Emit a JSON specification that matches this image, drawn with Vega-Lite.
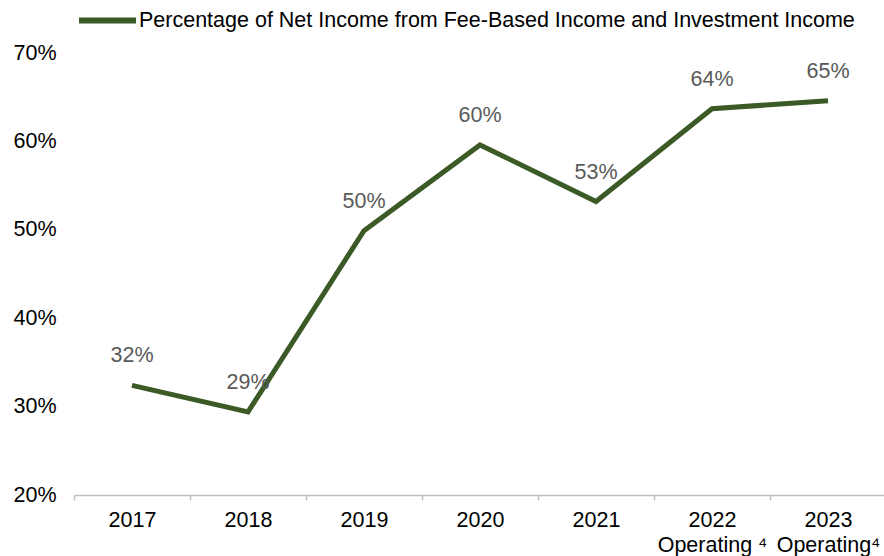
{
  "$schema": "https://vega.github.io/schema/vega-lite/v6.json",
  "autosize": "none",
  "width": 812,
  "height": 442,
  "padding": {"left": 74, "top": 53, "right": 0, "bottom": 61},
  "background": "white",
  "config": {
    "view": {"stroke": null},
    "font": "Liberation Sans"
  },
  "data": {
    "values": [
      {"year": "2017", "series": "Percentage of Net Income from Fee-Based Income and Investment Income", "value": 0.324},
      {"year": "2018", "series": "Percentage of Net Income from Fee-Based Income and Investment Income", "value": 0.294},
      {"year": "2019", "series": "Percentage of Net Income from Fee-Based Income and Investment Income", "value": 0.499},
      {"year": "2020", "series": "Percentage of Net Income from Fee-Based Income and Investment Income", "value": 0.596},
      {"year": "2021", "series": "Percentage of Net Income from Fee-Based Income and Investment Income", "value": 0.532},
      {"year": "2022", "series": "Percentage of Net Income from Fee-Based Income and Investment Income", "value": 0.637},
      {"year": "2023", "series": "Percentage of Net Income from Fee-Based Income and Investment Income", "value": 0.646}
    ]
  },
  "encoding": {
    "x": {
      "field": "year",
      "type": "ordinal",
      "scale": {"paddingInner": 0, "paddingOuter": 0},
      "axis": {
        "title": null,
        "labelAngle": 0,
        "labelFontSize": 21.5,
        "labelColor": "#000000",
        "labelPadding": 9,
        "labelLineHeight": 25,
        "labelBaseline": "top",
        "domainColor": "#BFBFBF",
        "domainWidth": 1.5,
        "tickColor": "#BFBFBF",
        "tickWidth": 1.5,
        "tickSize": 5,
        "tickBand": "extent",
        "labelExpr": "datum.value == '2022' ? [datum.value, 'Operating ⁴'] : datum.value == '2023' ? [datum.value, 'Operating⁴'] : datum.value"
      }
    },
    "y": {
      "field": "value",
      "type": "quantitative",
      "scale": {"domain": [0.2, 0.7], "nice": false, "zero": false},
      "axis": {
        "title": null,
        "format": ".0%",
        "values": [0.2, 0.3, 0.4, 0.5, 0.6, 0.7],
        "grid": false,
        "domain": false,
        "ticks": false,
        "tickSize": 0,
        "labelAlign": "left",
        "labelPadding": 61,
        "labelFontSize": 21.5,
        "labelColor": "#000000"
      }
    }
  },
  "layer": [
    {
      "mark": {"type": "line", "strokeWidth": 5, "strokeJoin": "miter"},
      "encoding": {
        "color": {
          "field": "series",
          "type": "nominal",
          "scale": {"range": ["#3B5A26"]},
          "legend": {
            "title": null,
            "orient": "none",
            "legendX": 2,
            "legendY": -64,
            "symbolType": "stroke",
            "symbolSize": 3249,
            "symbolStrokeWidth": 6,
            "labelFontSize": 21.5,
            "labelColor": "#000000",
            "labelOffset": 0,
            "labelLimit": 900
          }
        }
      }
    },
    {
      "mark": {"type": "text", "dy": -29, "fontSize": 21.5, "color": "#595959"},
      "encoding": {
        "text": {"field": "value", "type": "quantitative", "format": ".0%"}
      }
    }
  ]
}
